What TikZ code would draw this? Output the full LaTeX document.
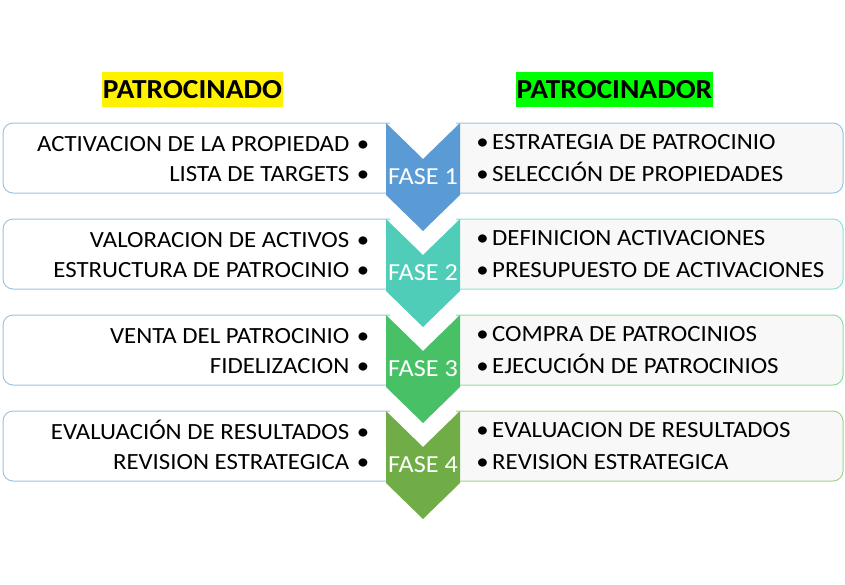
\documentclass[tikz,border=0pt]{standalone}
\usepackage{fontspec}
\setmainfont[FakeStretch=1.07]{Carlito}
\begin{document}
\begin{tikzpicture}[x=1pt,y=-1pt,
  lbox/.style={draw=lblue, fill=white, line width=1pt, rounded corners=10pt},
  rbox/.style={fill=rgray, line width=1pt, rounded corners=10pt},
  itemL/.style={anchor=base east, font=\fontsize{23.2}{23.2}\selectfont, inner sep=0pt},
  itemR/.style={anchor=base west, font=\fontsize{23.2}{23.2}\selectfont, inner sep=0pt},
  bul/.style={anchor=base, font=\fontsize{23.2}{23.2}\selectfont, inner sep=0pt},
  fase/.style={anchor=base, font=\fontsize{24.5}{24.5}\selectfont, text=white, inner sep=0pt},
  head/.style={anchor=base, font=\bfseries\fontsize{27.5}{27.5}\selectfont, inner xsep=1pt, inner ysep=0pt, text height=26.5pt, text depth=8.5pt}
]
\definecolor{lblue}{HTML}{9DC3E6}
\definecolor{rgray}{HTML}{F8F8F8}
\definecolor{c1}{HTML}{5B9BD5}
\definecolor{c2}{HTML}{4FCDB8}
\definecolor{c3}{HTML}{47C066}
\definecolor{c4}{HTML}{70AD47}
\definecolor{b1}{HTML}{9DC3E6}
\definecolor{b2}{HTML}{8EE3D5}
\definecolor{b3}{HTML}{90DEA2}
\definecolor{b4}{HTML}{A9D18E}
\definecolor{hgreen}{RGB}{0,255,0}
\useasboundingbox (0,0) rectangle (845,584);

\node[head, fill=yellow] (hl) at (192.5,98.5) {PATROCINADO};
\node[head, fill=hgreen] (hr) at (614.5,98.5) {PATROCINADOR};

\foreach \t/\c/\b [count=\i] in {123/c1/b1, 219/c2/b2, 315/c3/b3, 411/c4/b4}{
  \pgfmathsetmacro{\bot}{\t+70}
  \filldraw[lbox] (390,\t) -- (3,\t) -- (3,\bot) -- (390,\bot);
  \filldraw[rbox, draw=\b] (456,\t) -- (843,\t) -- (843,\bot) -- (456,\bot);
  \pgfmathsetmacro{\sh}{\t+72}
  \pgfmathsetmacro{\tip}{\t+108}
  \pgfmathsetmacro{\notch}{\t+36}
  \fill[\c] (386,\t) -- (423,\notch) -- (460,\t) -- (460,\sh) -- (423,\tip) -- (386,\sh) -- cycle;
  \pgfmathsetmacro{\ya}{\t+28.5}
  \pgfmathsetmacro{\yb}{\t+58.5}
  \pgfmathsetmacro{\yc}{\t+26.5}
  \node[bul] (bl\i a) at (363,\ya) {•};
  \node[bul] (bl\i b) at (363,\yb) {•};
  \node[bul] (br\i a) at (482.5,\yc) {•};
  \node[bul] (br\i b) at (482.5,\yb) {•};
}

\node[fase] (f1) at (423,184) {FASE 1};
\node[fase] (f2) at (423,280) {FASE 2};
\node[fase] (f3) at (423,376) {FASE 3};
\node[fase] (f4) at (423,472) {FASE 4};

\node[itemL] (l11) at (349.5,151.5) {ACTIVACION DE LA PROPIEDAD};
\node[itemL] (l12) at (349.5,181.5) {LISTA DE TARGETS};
\node[itemL] (l21) at (349.5,247.5) {VALORACION DE ACTIVOS};
\node[itemL] (l22) at (349.5,277.5) {ESTRUCTURA DE PATROCINIO};
\node[itemL] (l31) at (349.5,343.5) {VENTA DEL PATROCINIO};
\node[itemL] (l32) at (349.5,373.5) {FIDELIZACION};
\node[itemL] (l41) at (349.5,439.5) {EVALUACIÓN DE RESULTADOS};
\node[itemL] (l42) at (349.5,469.5) {REVISION ESTRATEGICA};

\node[itemR] (r11) at (492,149.5) {ESTRATEGIA DE PATROCINIO};
\node[itemR] (r12) at (492,181.5) {SELECCIÓN DE PROPIEDADES};
\node[itemR] (r21) at (492,245.5) {DEFINICION ACTIVACIONES};
\node[itemR] (r22) at (492,277.5) {PRESUPUESTO DE ACTIVACIONES};
\node[itemR] (r31) at (492,341.5) {COMPRA DE PATROCINIOS};
\node[itemR] (r32) at (492,373.5) {EJECUCIÓN DE PATROCINIOS};
\node[itemR] (r41) at (492,437.5) {EVALUACION DE RESULTADOS};
\node[itemR] (r42) at (492,469.5) {REVISION ESTRATEGICA};
\end{tikzpicture}
\end{document}
